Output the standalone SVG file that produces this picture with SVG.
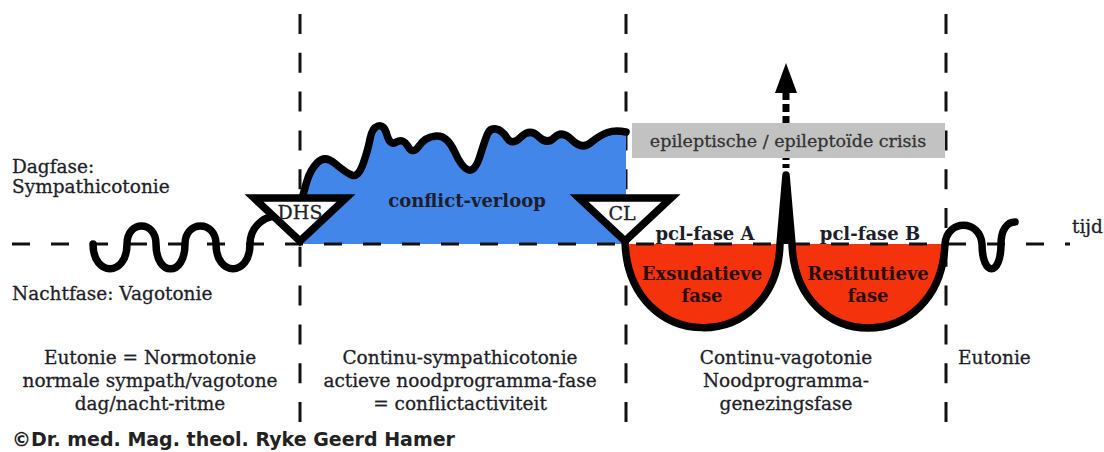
<svg xmlns="http://www.w3.org/2000/svg" width="1104" height="452" viewBox="0 0 1104 452">
<style>
.t{font-family:"DejaVu Serif","Liberation Serif",serif;font-size:18.5px;fill:#1e1e28;stroke:#1e1e28;stroke-width:0.3}
.b{font-family:"DejaVu Serif","Liberation Serif",serif;font-size:18px;font-weight:bold;fill:#1e1e2a}
.c{text-anchor:middle}
.vd{stroke:#111;stroke-width:3;stroke-dasharray:20 18.8;fill:none}
.hd{stroke:#111;stroke-width:3;stroke-dasharray:18 21;fill:none}
.k{fill:none;stroke:#000;stroke-width:7.5;stroke-linecap:round;stroke-linejoin:round}
.tri{fill:#fff;stroke:#000;stroke-width:7.5;stroke-linejoin:miter;stroke-miterlimit:12}
</style>
<rect width="1104" height="452" fill="#fff"/>

<g id="connectors">
  <line class="vd" x1="300" y1="14" x2="300" y2="426"/>
  <line class="vd" x1="626" y1="14" x2="626" y2="426"/>
  <line class="vd" x1="946" y1="14" x2="946" y2="426"/>
</g>

<g id="conflict-verloop">
  <path fill="#4286ea" d="M303,195 L306.5,182.5 Q310,170 317.5,162.5 Q325,155 335,163.5 Q345,172 351.5,175 Q358,178 363,164 Q368,150 370,139 Q372,128 378,126 Q384,124 387,135 Q390,146 396.5,142 Q403,138 408,146.5 Q413,155 419,146 Q425,137 436,136 Q447,135 454.5,151.5 Q462,168 468.5,170 Q475,172 480,156 Q485,140 487.5,134 Q490,128 496,129 Q502,130 507,138 Q512,146 521,137 Q530,128 538.5,136.5 Q547,145 554.5,137.5 Q562,130 572,140 Q582,150 591,142.5 Q600,135 607.5,132.5 Q615,130 626,132 L626,244 L300,244 Z"/>
</g>

<g id="pcl-fase-A">
  <path fill="#f4320c" d="M627,244 C630,356 777,356 780,244 Z"/>
</g>
<g id="pcl-fase-B">
  <path fill="#f4320c" d="M792,244 C796,356 940,356 945,244 Z"/>
</g>

<g id="baseline">
  <line class="hd" x1="12" y1="244" x2="1070" y2="244"/>
</g>

<g id="curves">
  <path class="k" d="M93,244 C93,277 127,277 127,244 C127,220 156,220 156,244 C156,277 185,277 185,244 C185,220 216,220 216,244 C216,277 250,277 250,244 C250,228 262,218 274,216"/>
  <path class="k" d="M303,195 L306.5,182.5 Q310,170 317.5,162.5 Q325,155 335,163.5 Q345,172 351.5,175 Q358,178 363,164 Q368,150 370,139 Q372,128 378,126 Q384,124 387,135 Q390,146 396.5,142 Q403,138 408,146.5 Q413,155 419,146 Q425,137 436,136 Q447,135 454.5,151.5 Q462,168 468.5,170 Q475,172 480,156 Q485,140 487.5,134 Q490,128 496,129 Q502,130 507,138 Q512,146 521,137 Q530,128 538.5,136.5 Q547,145 554.5,137.5 Q562,130 572,140 Q582,150 591,142.5 Q600,135 607.5,132.5 Q615,130 626,132"/>
  <polygon points="780,244 786,175 792,244" fill="#000"/>
  <path class="k" d="M625,241 C628,356 777,356 780,244 L786,175 L792,244 C796,356 940,356 945,244 C947,219 980,219 982,244 C982,277 1001,277 1001,244 C1001,230 1007,222 1015,222"/>
</g>

<g id="arrow">
  <line x1="786" y1="92" x2="786" y2="168" stroke="#000" stroke-width="7" stroke-dasharray="8 4"/>
  <polygon points="786,63 775,93 797,93" fill="#000"/>
</g>

<g id="crisis">
  <rect x="632" y="123" width="313" height="35" fill="#c2c2c2"/>
  <text class="t c" x="788" y="147" style="font-size:17.5px;fill:#333;stroke:#333">epileptische / epileptoïde crisis</text>
</g>

<g id="DHS">
  <polygon class="tri" points="254,198 346,198 300,241"/>
  <text class="t c" x="300" y="219" style="font-size:19px">DHS</text>
</g>

<g id="CL">
  <polygon class="tri" points="579,198 671,198 625,241"/>
  <text class="t c" x="622" y="220" style="font-size:19px">CL</text>
</g>

<g id="labels">
  <text class="b c" x="467" y="207">conflict-verloop</text>
  <text class="b c" x="705" y="240">pcl-fase A</text>
  <text class="b c" x="870" y="240">pcl-fase B</text>
  <text class="b c" x="702" y="280" style="fill:#2a0f08">Exsudatieve</text>
  <text class="b c" x="702" y="302" style="fill:#2a0f08">fase</text>
  <text class="b c" x="868" y="280" style="fill:#2a0f08">Restitutieve</text>
  <text class="b c" x="868" y="302" style="fill:#2a0f08">fase</text>
  <text class="t" x="12" y="173">Dagfase:</text>
  <text class="t" x="12" y="193">Sympathicotonie</text>
  <text class="t" x="12" y="300">Nachtfase: Vagotonie</text>
  <text class="t" x="1072" y="233">tijd</text>
  <text class="t c" x="150" y="364">Eutonie = Normotonie</text>
  <text class="t c" x="150" y="387">normale sympath/vagotone</text>
  <text class="t c" x="150" y="410">dag/nacht-ritme</text>
  <text class="t c" x="460" y="364">Continu-sympathicotonie</text>
  <text class="t c" x="460" y="387">actieve noodprogramma-fase</text>
  <text class="t c" x="460" y="410">= conflictactiviteit</text>
  <text class="t c" x="786" y="364">Continu-vagotonie</text>
  <text class="t c" x="786" y="387">Noodprogramma-</text>
  <text class="t c" x="786" y="410">genezingsfase</text>
  <text class="t" x="958" y="364">Eutonie</text>
  <text x="12" y="446" style="font-family:'DejaVu Sans','Liberation Sans',sans-serif;font-size:19px;font-weight:bold;fill:#222">©Dr. med. Mag. theol. Ryke Geerd Hamer</text>
</g>
</svg>
